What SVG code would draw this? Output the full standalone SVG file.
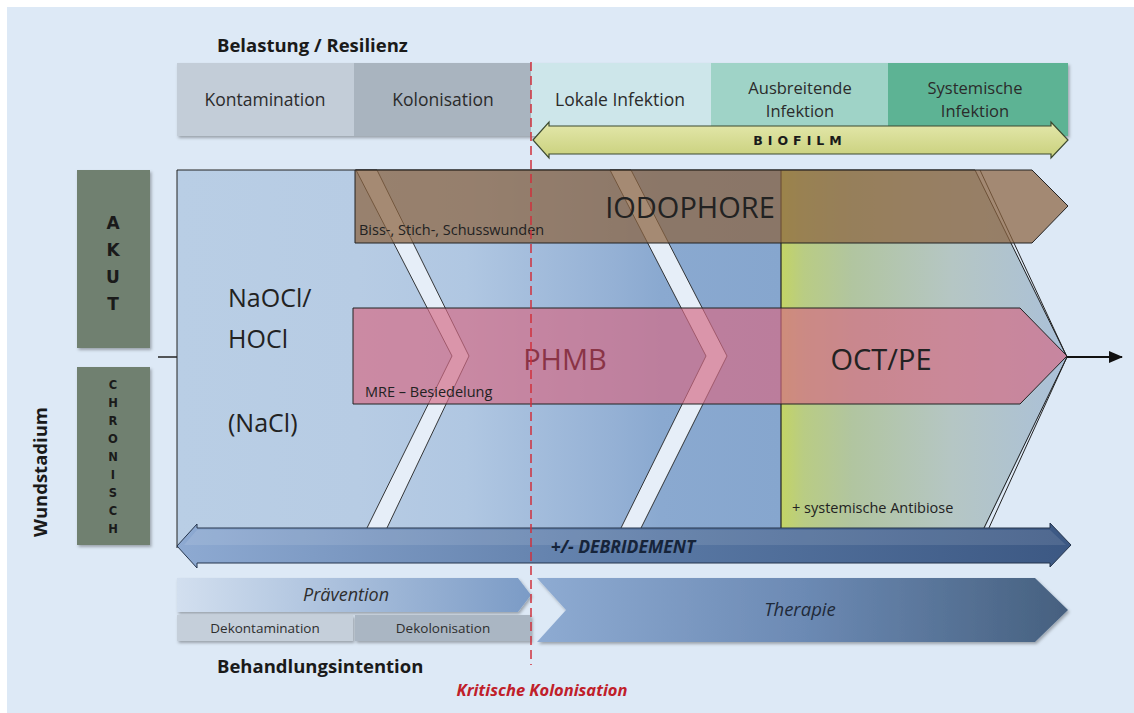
<svg xmlns="http://www.w3.org/2000/svg" width="1134" height="713" viewBox="0 0 1134 713">
<style>
text{font-family:"Open Sans","Noto Sans","Liberation Sans",sans-serif;fill:#222}
.hd{font-size:17.5px;text-anchor:middle;fill:#2b2b2b}
.hd2{font-size:16.5px;text-anchor:middle;fill:#2b2b2b}
.ttl{font-size:18.5px;font-weight:bold;fill:#1a1a1a}
.big{font-size:29px;text-anchor:middle}
.sm{font-size:14.5px}
.ltr{font-family:"DejaVu Sans",sans-serif;font-weight:bold;text-anchor:middle;fill:#1a1a1a}
.ol{fill:none;stroke:#222;stroke-width:1}
.stripe{fill:#e6eef8;stroke:#222;stroke-width:0.9}
</style>
<defs>
<filter id="sh" x="-5%" y="-10%" width="112%" height="130%">
<feDropShadow dx="1.5" dy="2" stdDeviation="1.5" flood-color="#000" flood-opacity="0.3"/>
</filter>
<linearGradient id="gMain" gradientUnits="userSpaceOnUse" x1="177" y1="0" x2="781" y2="0">
<stop offset="0" stop-color="#b9cee5"/>
<stop offset="0.3" stop-color="#b7cce4"/>
<stop offset="0.48" stop-color="#b0c7e2"/>
<stop offset="0.72" stop-color="#95b1d5"/>
<stop offset="0.8" stop-color="#8aa9d0"/>
<stop offset="1" stop-color="#86a6ce"/>
</linearGradient>
<linearGradient id="gGreen" gradientUnits="userSpaceOnUse" x1="781" y1="0" x2="1067" y2="0">
<stop offset="0" stop-color="#c3d465"/>
<stop offset="0.08" stop-color="#b9cc84"/>
<stop offset="0.25" stop-color="#b1c5a0"/>
<stop offset="0.6" stop-color="#b5c6c4"/>
<stop offset="1" stop-color="#aac0d9"/>
</linearGradient>
<linearGradient id="gBio" x1="0" y1="0" x2="0" y2="1">
<stop offset="0" stop-color="#e4e8ac"/>
<stop offset="1" stop-color="#c9d07c"/>
</linearGradient>
<linearGradient id="gDeb" gradientUnits="userSpaceOnUse" x1="177" y1="0" x2="1070" y2="0">
<stop offset="0" stop-color="#8eaad2"/>
<stop offset="0.55" stop-color="#5877a3"/>
<stop offset="1" stop-color="#3c5883"/>
</linearGradient>
<linearGradient id="gPrae" gradientUnits="userSpaceOnUse" x1="177" y1="0" x2="531" y2="0">
<stop offset="0" stop-color="#d2dfef"/>
<stop offset="1" stop-color="#7b9bc6"/>
</linearGradient>
<linearGradient id="gTher" gradientUnits="userSpaceOnUse" x1="537" y1="0" x2="1068" y2="0">
<stop offset="0" stop-color="#8eabd2"/>
<stop offset="0.5" stop-color="#6c8ab4"/>
<stop offset="1" stop-color="#46607f"/>
</linearGradient>
<marker id="ah" markerWidth="14" markerHeight="12" refX="13" refY="6" orient="auto" markerUnits="userSpaceOnUse">
<path d="M0,0 L14,6 L0,12 Z" fill="#111"/>
</marker>
</defs>

<rect x="0" y="0" width="1134" height="713" fill="#ffffff"/>
<rect x="7" y="7" width="1127" height="706" fill="#dde9f6"/>

<text id="t-belastung" class="ttl" x="217" y="52">Belastung / Resilienz</text>

<g id="header" filter="url(#sh)">
<rect x="177" y="63" width="177" height="73" fill="#c3cdd8"/>
<rect x="354" y="63" width="177" height="73" fill="#a9b4bf"/>
<rect x="531" y="63" width="180" height="73" fill="#cde6ea"/>
<rect x="711" y="63" width="177" height="73" fill="#9fd3c7"/>
<rect x="888" y="63" width="180" height="73" fill="#5db394"/>
</g>
<g id="header-text">
<text class="hd" x="265" y="106">Kontamination</text>
<text class="hd" x="443" y="106">Kolonisation</text>
<text class="hd" x="620" y="106">Lokale Infektion</text>
<text class="hd2" x="800" y="94">Ausbreitende</text>
<text class="hd2" x="800" y="117">Infektion</text>
<text class="hd2" x="975" y="94">Systemische</text>
<text class="hd2" x="975" y="117">Infektion</text>
</g>

<g id="biofilm">
<path d="M533,140 L549,122 L549,126 L1051,126 L1051,122 L1068,140 L1051,158 L1051,154 L549,154 L549,158 Z" fill="url(#gBio)" stroke="#3d4a30" stroke-width="1.2"/>
<text class="ltr" x="800" y="145" font-size="12.5" letter-spacing="5">BIOFILM</text>
</g>

<g id="akut" filter="url(#sh)">
<rect x="77" y="170" width="73" height="178" fill="#6f8070"/>
</g>
<g id="akut-text">
<text class="ltr" x="113" y="229" font-size="17">A</text>
<text class="ltr" x="113" y="256" font-size="17">K</text>
<text class="ltr" x="113" y="283" font-size="17">U</text>
<text class="ltr" x="113" y="310" font-size="17">T</text>
</g>
<g id="chronisch" filter="url(#sh)">
<rect x="77" y="367" width="73" height="178" fill="#6f8070"/>
</g>
<g id="chronisch-text" font-size="11.5">
<text class="ltr" x="113" y="389">C</text>
<text class="ltr" x="113" y="407">H</text>
<text class="ltr" x="113" y="425">R</text>
<text class="ltr" x="113" y="443">O</text>
<text class="ltr" x="113" y="461">N</text>
<text class="ltr" x="113" y="479">I</text>
<text class="ltr" x="113" y="497">S</text>
<text class="ltr" x="113" y="515">C</text>
<text class="ltr" x="113" y="533">H</text>
</g>
<text id="t-wundstadium" class="ttl" transform="translate(47,472) rotate(-90)" text-anchor="middle" font-size="19">Wundstadium</text>

<g id="main-area">
<path d="M177,170 L975,170 L1067,357 L975,548 L177,548 Z" fill="url(#gMain)"/>
<path d="M781,170 L975,170 L1067,357 L975,548 L781,548 Z" fill="url(#gGreen)"/>
<path class="stripe" d="M356,170 L377,170 L469,356 L386,530 L366,530 L452,356 Z"/>
<path class="stripe" d="M610,170 L631,170 L727,356 L640,530 L620,530 L706,356 Z"/>
<path class="ol" d="M177,548 L177,170 L975,170 L1067,357 L983,530"/>
<path class="ol" d="M980,170 L1067,357 L988,530"/>
<line x1="781" y1="170" x2="781" y2="530" stroke="#222" stroke-width="1.2"/>
</g>

<g id="iodophore">
<path d="M355,170 L1032,170 L1068,206 L1032,243 L355,243 Z" fill="#8c6440" fill-opacity="0.72" stroke="#222" stroke-width="1"/>
<text class="big" x="690" y="218" font-size="30">IODOPHORE</text>
<text class="sm" x="359" y="235">Biss-, Stich-, Schusswunden</text>
</g>

<g id="phmb">
<path d="M353,308 L1020,308 L1067,356 L1020,404 L353,404 Z" fill="#d46a84" fill-opacity="0.68" stroke="#222" stroke-width="1"/>
<text class="big" x="565" y="370" style="fill:#8a3446">PHMB</text>
<text class="big" x="881" y="370">OCT/PE</text>
<text class="sm" x="365" y="397">MRE – Besiedelung</text>
</g>

<g id="naocl" font-size="25">
<text x="228" y="307">NaOCl/</text>
<text x="228" y="348">HOCl</text>
<text x="228" y="432">(NaCl)</text>
</g>
<text id="t-antibiose" class="sm" x="792" y="513">+ systemische Antibiose</text>

<g id="connectors">
<line x1="158" y1="357" x2="177" y2="357" stroke="#222" stroke-width="1.5"/>
<line x1="1067" y1="357" x2="1122" y2="357" stroke="#111" stroke-width="1.8" marker-end="url(#ah)"/>
</g>

<g id="debridement">
<path d="M177,546 L197,524 L197,528 L1050,528 L1050,523 L1071,545 L1050,567 L1050,563 L197,563 L197,568 Z" fill="url(#gDeb)" stroke="#24344c" stroke-width="1"/>
<path d="M184,545 L197,530 L1050,530 L1066,545 Z" fill="#ffffff" fill-opacity="0.1"/>
<text x="623" y="553" font-size="17.5" font-weight="bold" font-style="italic" text-anchor="middle" style="fill:#16243a">+/- DEBRIDEMENT</text>
</g>

<g id="praevention" filter="url(#sh)">
<path d="M177,578 L518,578 L531,595 L518,612 L177,612 Z" fill="url(#gPrae)"/>
</g>
<text x="346" y="601" font-size="18" font-style="italic" text-anchor="middle" style="fill:#2e2e2e">Prävention</text>

<g id="dekontamination" filter="url(#sh)">
<rect x="177" y="615" width="176" height="26" fill="#c5cfda"/>
</g>
<text x="265" y="633" font-size="13.5" text-anchor="middle" style="fill:#2e2e2e">Dekontamination</text>
<g id="dekolonisation" filter="url(#sh)">
<rect x="355" y="615" width="176" height="26" fill="#aab6c3"/>
</g>
<text x="443" y="633" font-size="13.5" text-anchor="middle" style="fill:#2e2e2e">Dekolonisation</text>

<g id="therapie" filter="url(#sh)">
<path d="M537,578 L1035,578 L1068,610 L1035,642 L537,642 L566,610 Z" fill="url(#gTher)"/>
</g>
<text x="800" y="616" font-size="18.5" font-style="italic" text-anchor="middle" style="fill:#1f2a3a">Therapie</text>

<text id="t-behandlung" class="ttl" x="217" y="673">Behandlungsintention</text>

<line id="kritisch-line" x1="531" y1="62" x2="531" y2="665" stroke="#d0303c" stroke-width="1.5" stroke-dasharray="9,5"/>
<text id="t-kritisch" x="542" y="696" font-size="16.5" font-weight="bold" font-style="italic" text-anchor="middle" style="fill:#c0202a">Kritische Kolonisation</text>
</svg>
